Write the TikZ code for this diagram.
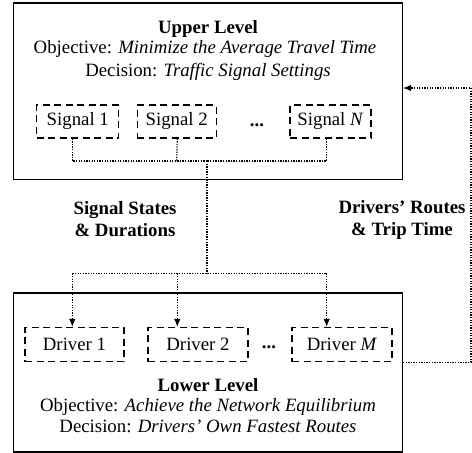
\documentclass[tikz,border=0pt]{standalone}
\usepackage{fontspec}
\setmainfont{Liberation Serif}
\usetikzlibrary{positioning, arrows.meta}

\tikzset{
  nivel/.style={draw, line width=1.1pt, inner sep=0pt},
  caja/.style={draw, line width=1.2pt, dash pattern=on 7pt off 4.5pt, minimum height=33pt, inner sep=0pt},
  enlace/.style={line width=1.2pt, dash pattern=on 1.3pt off 1.3pt},
}

\begin{document}
\begin{tikzpicture}[x=1pt, y=-1pt, >={Latex[length=8pt, width=6.5pt]}, font=\fontsize{18.8}{22}\selectfont]
  \useasboundingbox (0,0) rectangle (472,453);

  % Niveles
  \node[nivel, minimum width=389pt, minimum height=176.5pt] (upper) at (208,91.25) {};
  \node[nivel, minimum width=389pt, minimum height=159pt] (lower) at (208,372.5) {};

  % Nivel superior
  \node[anchor=base] (ut) at (208,33.5) {\textbf{Upper Level}};
  \node[anchor=base] (uo) at (205,53.5) {Objective: \textit{Minimize the Average Travel Time}};
  \node[anchor=base] (ud) at (208,76) {Decision: \textit{Traffic Signal Settings}};
  \node[caja, minimum width=82pt] (s1) at (77.8,121.5) {Signal 1};
  \node[caja, minimum width=79pt] (s2) at (176.7,121.5) {Signal 2};
  \node[caja, minimum width=81pt] (sn) at (330.5,121.5) {Signal \textit{N}};
  \node (sdots) at (257,125) {\textbf{...}};

  % Nivel inferior
  \node[caja, minimum width=99pt, minimum height=34pt] (d1) at (74.5,344.5) {Driver 1};
  \node[caja, minimum width=100pt, minimum height=34pt] (d2) at (198,344.5) {Driver 2};
  \node[caja, minimum width=100pt, minimum height=34pt] (dm) at (342,344.5) {Driver \textit{M}};
  \node (ddots) at (269,347) {\textbf{...}};
  \node[anchor=base] (lt) at (208,391) {\textbf{Lower Level}};
  \node[anchor=base] (lo) at (208,411.7) {Objective: \textit{Achieve the Network Equilibrium}};
  \node[anchor=base] (ld) at (208,432.7) {Decision: \textit{Drivers' Own Fastest Routes}};

  % Etiquetas
  \node[align=center] (sig) at (125,219.5) {\textbf{Signal States}\\\textbf{\& Durations}};
  \node[align=center] (drv) at (402,219.5) {\textbf{Drivers' Routes}\\\textbf{\& Trip Time}};

  % Conexiones
  \coordinate (bus) at (207,161);
  \coordinate (bus2) at (207,273.3);
  \draw[enlace] ([xshift=-5.5pt]s1.south) |- (bus);
  \draw[enlace] ([xshift=0.6pt]s2.south) -- (s2.south |- bus);
  \draw[enlace] ([xshift=-3.8pt]sn.south) |- (bus);
  \draw[enlace] (bus) -- (bus2);
  \draw[enlace] ([xshift=-5.5pt]s1.south |- bus2) -- ([xshift=-3.8pt]sn.south |- bus2);
  \draw[enlace, ->] ([xshift=-5.5pt]s1.south |- bus2) -- ([xshift=-5.5pt]s1.south |- d1.north);
  \draw[enlace, ->] ([xshift=0.6pt]s2.south |- bus2) -- ([xshift=0.6pt]s2.south |- d2.north);
  \draw[enlace, ->] ([xshift=-3.8pt]sn.south |- bus2) -- ([xshift=-3.8pt]sn.south |- dm.north);

  % Retroalimentacion
  \coordinate (ret) at (471,88);
  \draw[enlace, ->] (lower.east |- dm.south) -| (ret) -- (upper.east |- ret);
\end{tikzpicture}
\end{document}
